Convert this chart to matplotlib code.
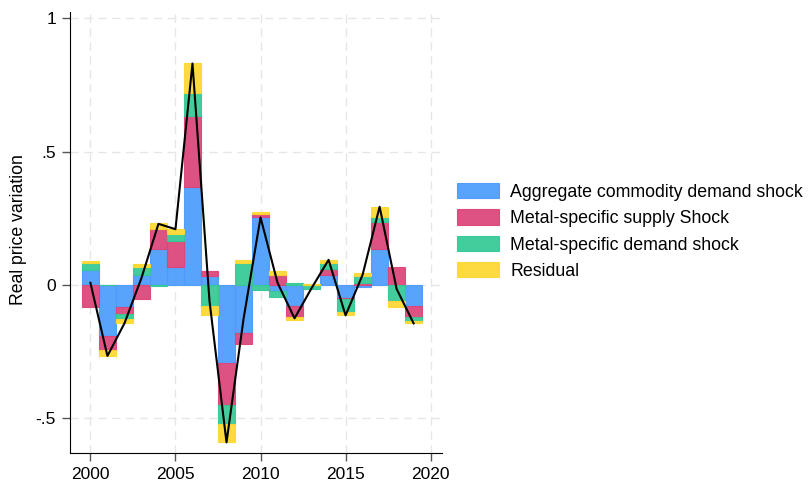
import numpy as np
import matplotlib
matplotlib.use("Agg")
import matplotlib.pyplot as plt

plt.rcParams['font.family'] = 'Liberation Sans'

years = np.arange(2000, 2020)

# contributions of each shock
agg_demand = [0.056, -0.190, -0.081, 0.037, 0.135, 0.069, 0.366, 0.034, -0.294, -0.181,
              0.256, -0.021, -0.079, 0.000, 0.037, -0.050, -0.008, 0.135, 0.000, -0.079]
supply = [-0.081, -0.054, -0.029, -0.052, 0.074, 0.095, 0.269, 0.018, -0.156, -0.041,
          0.010, 0.039, -0.042, 0.000, 0.022, -0.004, 0.009, 0.102, 0.066, -0.042]
metal_demand = [0.025, 0.000, -0.019, 0.032, -0.005, 0.027, 0.085, -0.079, -0.071, 0.084,
                -0.019, -0.025, 0.006, -0.016, 0.025, -0.048, 0.026, 0.018, -0.059, -0.013]
residual = [0.008, -0.022, -0.015, 0.009, 0.025, 0.018, 0.110, -0.033, -0.069, 0.010,
            0.006, 0.015, -0.010, 0.004, 0.010, -0.012, 0.011, 0.038, -0.022, -0.010]
total = [0.008, -0.266, -0.144, 0.026, 0.229, 0.209, 0.830, -0.060, -0.590, -0.128,
         0.253, 0.008, -0.125, -0.012, 0.094, -0.114, 0.038, 0.293, -0.015, -0.144]

labels = ['Aggregate commodity demand shock', 'Metal-specific supply Shock',
          'Metal-specific demand shock', 'Residual']
colors = ['#4a9bfb', '#dc4379', '#33c995', '#fdd82f']

fig = plt.figure(figsize=(8.08, 4.84), dpi=100)
ax = fig.add_axes([70 / 808, (484 - 453.3) / 484, (441.7 - 70) / 808, (453.3 - 12) / 484])

pos_bottom = np.zeros(len(years))
neg_bottom = np.zeros(len(years))
for vals, col, lab in zip([agg_demand, supply, metal_demand, residual], colors, labels):
    vals = np.array(vals)
    bottom = np.where(vals >= 0, pos_bottom, neg_bottom)
    ax.bar(years, vals, width=1.0, bottom=bottom, color=col, alpha=0.92,
           edgecolor=col, linewidth=0.8, label=lab, zorder=2)
    pos_bottom += np.clip(vals, 0, None)
    neg_bottom += np.clip(vals, None, 0)

ax.plot(years, total, color='black', lw=1.5, zorder=3)

ax.set_xlim(1998.8, 2020.65)
ax.set_ylim(-0.631, 1.023)
ax.set_xticks([2000, 2005, 2010, 2015, 2020])
ax.set_yticks([-0.5, 0, 0.5, 1])
ax.set_yticklabels(['-.5', '0', '.5', '1'])
ax.tick_params(labelsize=12.5, length=6, width=1, color='#555555', pad=4)
ax.grid(True, color='#e6e6e6', linestyle=(0, (6, 4)), linewidth=1, zorder=0)
ax.set_axisbelow(True)
for s in ['top', 'right']:
    ax.spines[s].set_visible(False)
ax.set_ylabel('Real price variation', fontsize=12.7)
ax.yaxis.set_label_coords(-0.115, 0.507)

ax.legend(loc='upper left', bbox_to_anchor=(457 / 808, 1 - 183 / 484),
          bbox_transform=fig.transFigure, frameon=False, fontsize=12.75,
          handlelength=2.35, handleheight=0.95, handletextpad=0.65,
          labelspacing=0.49, borderpad=0, borderaxespad=0)

fig.savefig('out.png', dpi=100)
